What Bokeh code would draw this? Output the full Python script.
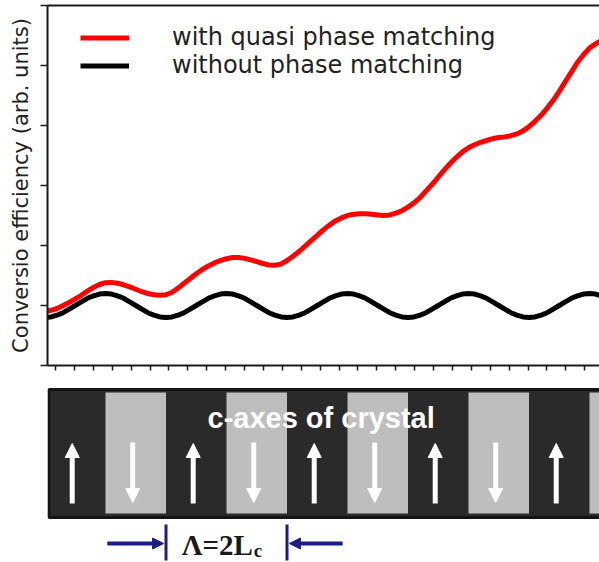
from bokeh.plotting import figure
from bokeh.models import (Range1d, FixedTicker, LinearAxis, Legend, LegendItem, Label,
                          Arrow, NormalHead, ColumnDataSource, CustomJSTickFormatter)
from bokeh.layouts import column
from bokeh.embed import file_html
from bokeh.resources import INLINE

# ---------------- data (x in units of the coherence length Lc) ----------------
position = [0.0, 0.1, 0.2, 0.3, 0.4, 0.5, 0.6, 0.7, 0.8, 0.9,
            1.0, 1.1, 1.2, 1.3, 1.4, 1.5, 1.6, 1.7, 1.8, 1.9,
            2.0, 2.1, 2.2, 2.3, 2.4, 2.5, 2.6, 2.7, 2.8, 2.9,
            3.0, 3.1, 3.2, 3.3, 3.4, 3.5, 3.6, 3.7, 3.8, 3.9,
            4.0, 4.1, 4.2, 4.3, 4.4, 4.5, 4.6, 4.7, 4.8, 4.9,
            5.0, 5.1, 5.2, 5.3, 5.4, 5.5, 5.6, 5.7, 5.8, 5.9,
            6.0, 6.1, 6.2, 6.3, 6.4, 6.5, 6.6, 6.7, 6.8, 6.9,
            7.0, 7.1, 7.2, 7.3, 7.4, 7.5, 7.6, 7.7, 7.8, 7.9,
            8.0, 8.1, 8.2, 8.3, 8.4, 8.5, 8.6, 8.7, 8.8, 8.9,
            9.0, 9.1, 9.2]
qpm_efficiency = [0.90, 0.92, 0.95, 1.00, 1.05, 1.11, 1.17, 1.24, 1.30, 1.35,
                  1.38, 1.385, 1.37, 1.345, 1.31, 1.27, 1.23, 1.20, 1.18, 1.17,
                  1.18, 1.22, 1.29, 1.37, 1.45, 1.53, 1.60, 1.66, 1.71, 1.75,
                  1.78, 1.80, 1.80, 1.785, 1.76, 1.73, 1.70, 1.675, 1.67, 1.69,
                  1.75, 1.82, 1.90, 1.99, 2.08, 2.17, 2.26, 2.34, 2.41, 2.46,
                  2.50, 2.52, 2.53, 2.53, 2.52, 2.51, 2.50, 2.51, 2.54, 2.58,
                  2.64, 2.71, 2.80, 2.91, 3.02, 3.14, 3.26, 3.37, 3.47, 3.56,
                  3.63, 3.68, 3.72, 3.75, 3.78, 3.80, 3.81, 3.83, 3.86, 3.91,
                  3.98, 4.07, 4.17, 4.29, 4.42, 4.57, 4.73, 4.89, 5.05, 5.18,
                  5.29, 5.36, 5.42]
no_pm_efficiency = [0.80, 0.81, 0.84, 0.88, 0.94, 1.00, 1.06, 1.12, 1.16, 1.19,
                    1.20, 1.19, 1.16, 1.12, 1.06, 1.00, 0.94, 0.88, 0.84, 0.81,
                    0.80, 0.81, 0.84, 0.88, 0.94, 1.00, 1.06, 1.12, 1.16, 1.19,
                    1.20, 1.19, 1.16, 1.12, 1.06, 1.00, 0.94, 0.88, 0.84, 0.81,
                    0.80, 0.81, 0.84, 0.88, 0.94, 1.00, 1.06, 1.12, 1.16, 1.19,
                    1.20, 1.19, 1.16, 1.12, 1.06, 1.00, 0.94, 0.88, 0.84, 0.81,
                    0.80, 0.81, 0.84, 0.88, 0.94, 1.00, 1.06, 1.12, 1.16, 1.19,
                    1.20, 1.19, 1.16, 1.12, 1.06, 1.00, 0.94, 0.88, 0.84, 0.81,
                    0.80, 0.81, 0.84, 0.88, 0.94, 1.00, 1.06, 1.12, 1.16, 1.19,
                    1.20, 1.19, 1.16]
series_labels = ["with quasi phase matching", "without phase matching"]
y_label = "Conversio efficiency (arb. units)"
y_ticks = [0, 1, 2, 3, 4, 5, 6]
x_ticks = [round(0.1736 + 0.3124 * k, 4) for k in range(29)]

domain_index = [0, 1, 2, 3, 4, 5, 6, 7, 8, 9]
domain_orientation = ["up", "down", "up", "down", "up", "down", "up", "down", "up", "down"]
crystal_label = "c-axes of crystal"
period_bounds = [2, 4]
period_label = "Λ=2L"
period_sub = "c"

# ---------------- layout constants ----------------
W, H_TOP, H_BOT = 599, 375, 187
PX_PER_LC = 60.5
X0_PX = 44.5
AX = "#1a1a1a"
NAVY = "#1c1c86"
xr = Range1d((47 - X0_PX) / PX_PER_LC, (W - X0_PX) / PX_PER_LC)
blank = CustomJSTickFormatter(code="return ''")

# ---------------- top chart ----------------
p = figure(width=W, height=H_TOP, output_backend="svg", toolbar_location=None,
           x_range=xr, y_range=Range1d(0, 6),
           x_axis_type=None, y_axis_type=None,
           min_border_left=47, min_border_right=0, min_border_top=5, min_border_bottom=10)
p.outline_line_color = None
p.background_fill_color = "white"
p.border_fill_color = "white"


def style_axis(ax, tick_out):
    ax.formatter = blank
    ax.major_label_standoff = 0
    ax.minor_tick_line_color = None
    ax.major_tick_in = 0
    ax.major_tick_out = tick_out
    ax.axis_line_width = 2
    ax.axis_line_color = AX
    ax.major_tick_line_color = AX
    ax.major_tick_line_width = 1.5


left = LinearAxis(ticker=FixedTicker(ticks=y_ticks))
style_axis(left, 7)
left.axis_label = y_label
left.axis_label_text_font = "DejaVu Sans"
left.axis_label_text_font_size = "21px"
left.axis_label_text_font_style = "normal"
left.axis_label_text_color = "#222222"
left.axis_label_standoff = 8
p.add_layout(left, "left")

bottom = LinearAxis(ticker=FixedTicker(ticks=x_ticks))
style_axis(bottom, 5)
p.add_layout(bottom, "below")

top = LinearAxis(ticker=FixedTicker(ticks=[]))
style_axis(top, 0)
p.add_layout(top, "above")

r_blk = p.line(position, no_pm_efficiency, line_color="#000000", line_width=5, line_join="round")
r_red = p.line(position, qpm_efficiency, line_color="#ff0000", line_width=5, line_join="round")

legend = Legend(items=[LegendItem(label=series_labels[0], renderers=[r_red]),
                       LegendItem(label=series_labels[1], renderers=[r_blk])],
                location=(33, 286), orientation="vertical",
                glyph_width=49, glyph_height=27, label_height=27, label_standoff=43,
                spacing=0, padding=0, margin=0,
                border_line_color=None, background_fill_alpha=0,
                label_text_font="DejaVu Sans", label_text_font_size="24px",
                label_text_color="#222222")
p.add_layout(legend)

# ---------------- crystal diagram ----------------
q = figure(width=W, height=H_BOT, output_backend="svg", toolbar_location=None,
           x_range=xr, y_range=Range1d(0, H_BOT),
           x_axis_type=None, y_axis_type=None,
           min_border_left=47, min_border_right=0, min_border_top=0, min_border_bottom=0)
q.outline_line_color = None
q.background_fill_color = "white"
q.border_fill_color = "white"

q.quad(left=[domain_index[0] + 0.065], right=[domain_index[-1] + 2], bottom=[45], top=[173],
       fill_color="#2a2a2a", line_color="#141414", line_width=3)

down = [i for i, o in zip(domain_index, domain_orientation) if o == "down"]
up = [i for i, o in zip(domain_index, domain_orientation) if o == "up"]
q.quad(left=down, right=[i + 1 for i in down], bottom=49, top=170,
       fill_color="#bebebe", line_color=None)

arrow_src = ColumnDataSource(dict(
    x=[i + 0.45 for i in up] + [i + 0.45 for i in down],
    y0=[59] * len(up) + [120] * len(down),
    y1=[119] * len(up) + [60] * len(down)))
q.add_layout(Arrow(end=NormalHead(size=14, fill_color="white", line_color="white", line_width=1),
                   x_start="x", y_start="y0", x_end="x", y_end="y1", source=arrow_src,
                   line_color="white", line_width=5))

q.add_layout(Label(x=2.686, y=145, text=crystal_label, text_color="white",
                   text_font="Liberation Sans", text_font_style="bold", text_font_size="29px",
                   text_align="left", text_baseline="middle"))

q.segment(x0=period_bounds, y0=2, x1=period_bounds, y1=38, line_color=NAVY, line_width=3)
q.add_layout(Arrow(end=NormalHead(size=11, fill_color=NAVY, line_color=NAVY, line_width=1),
                   x_start=period_bounds[0] - 0.97, y_start=19,
                   x_end=period_bounds[0] - 0.04, y_end=19, line_color=NAVY, line_width=4))
q.add_layout(Arrow(end=NormalHead(size=11, fill_color=NAVY, line_color=NAVY, line_width=1),
                   x_start=period_bounds[1] + 0.92, y_start=19,
                   x_end=period_bounds[1] + 0.04, y_end=19, line_color=NAVY, line_width=4))
q.add_layout(Label(x=2.26, y=18, text=period_label, text_color="#1a1a1a",
                   text_font="Liberation Serif", text_font_style="bold", text_font_size="29px",
                   text_align="left", text_baseline="middle"))
q.add_layout(Label(x=3.45, y=12, text=period_sub, text_color="#1a1a1a",
                   text_font="Liberation Serif", text_font_style="bold", text_font_size="19px",
                   text_align="left", text_baseline="middle"))

layout = column(p, q, spacing=0)
open("out.html", "w").write(file_html(layout, INLINE))
